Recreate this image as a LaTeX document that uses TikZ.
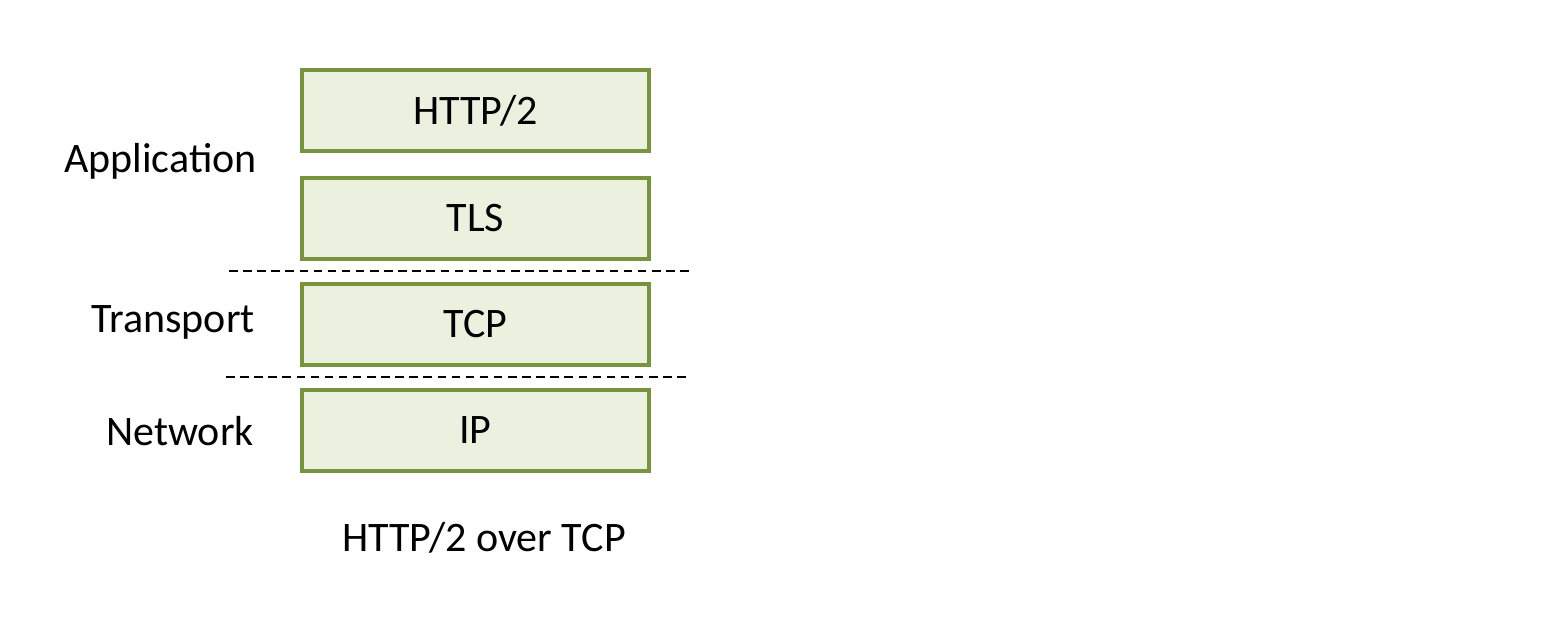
\documentclass[tikz,border=0pt]{standalone}
\usepackage{fontspec}
\setmainfont{Carlito}
\definecolor{boxline}{HTML}{77933C}
\definecolor{boxfill}{HTML}{EBF1DE}
\begin{document}
\begin{tikzpicture}[x=1pt,y=-1pt,
  layer/.style={draw=boxline,fill=boxfill,line width=4pt,minimum width=347pt,minimum height=81pt,inner sep=0pt,font=\fontsize{42}{50}\selectfont},
  lbl/.style={anchor=east,inner sep=0pt,font=\fontsize{42}{50}\selectfont},
  sep/.style={dashed,line width=1.8pt,dash pattern=on 8.5pt off 5.6pt}]
\useasboundingbox (0,0) rectangle (1558,630);
\node[layer] (http) at (475.5,110.5) {HTTP/2};
\node[layer] (tls) at (475.5,218) {TLS};
\node[layer] (tcp) at (475.5,324.5) {TCP};
\node[layer] (ip) at (475.5,430) {IP};
\coordinate (d1a) at (229,271);
\coordinate (d1b) at (690,271);
\coordinate (d2a) at (226,377);
\coordinate (d2b) at (690,377);
\draw[sep] (d1a) -- (d1b);
\draw[sep] (d2a) -- (d2b);
\node[lbl] (app) at (257,161) {Application};
\node[lbl] (trans) at (255,322) {Transport};
\node[lbl] (net) at (254,431) {Network};
\node[inner sep=0pt,font=\fontsize{42}{50}\selectfont] (cap) at (484,538) {HTTP/2 over TCP};
\end{tikzpicture}
\end{document}
